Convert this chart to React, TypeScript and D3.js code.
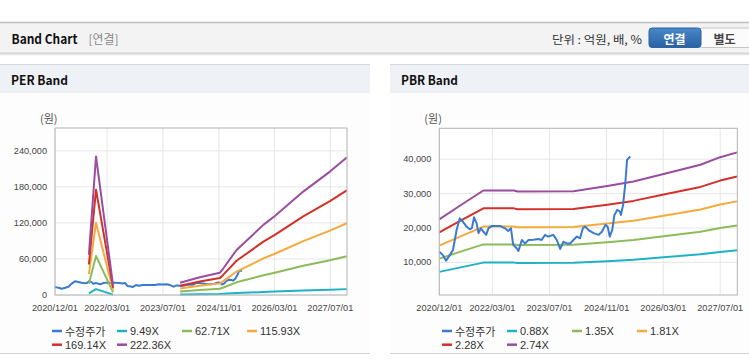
import React from "react";
import * as d3 from "d3";

const W = 749;
const H = 364;

// ---------- DATA ----------
const SERIES_COLORS = ["#3a7ad0", "#1fb1c4", "#8cbb5a", "#f5aa3c", "#d4302a", "#9a4d9e"];
const PRICE_LABEL = "수정주가";
const X_TICKS = ["2020/12/01", "2022/03/01", "2023/07/01", "2024/11/01", "2026/03/01", "2027/07/01"];

const PRICE_DATES = [
  "2020-12-01", "2021-01-01", "2021-01-28", "2021-03-01", "2021-03-28", "2021-04-28", "2021-05-25", "2021-06-22",
  "2021-07-22", "2021-08-19", "2021-09-06", "2021-09-24", "2021-10-16", "2021-11-01", "2021-11-22", "2021-12-13",
  "2022-01-06", "2022-01-25", "2022-02-24", "2022-05-04", "2022-06-16", "2022-07-13", "2022-08-06", "2022-08-25",
  "2022-09-24", "2022-10-09", "2022-11-07", "2022-12-04", "2023-01-03", "2023-02-15", "2023-03-28", "2023-04-25",
  "2023-05-24", "2023-06-21", "2023-08-03", "2023-09-02", "2023-10-01", "2023-10-28", "2023-11-27", "2023-12-25",
  "2024-01-22", "2024-02-21", "2024-03-19", "2024-04-12", "2024-05-01", "2024-05-31", "2024-07-13", "2024-08-25",
  "2024-09-22", "2024-10-22", "2024-11-10", "2024-11-28", "2024-12-19", "2025-01-07", "2025-02-01", "2025-02-22",
  "2025-03-04", "2025-03-22", "2025-04-10", "2025-04-25", "2025-05-22",
];
const PRICE = [
  13100, 12100, 10500, 12100, 13600, 19400, 22800, 21800,
  20400, 19600, 20000, 23100, 21400, 18500, 19900, 18900,
  18000, 19900, 20600, 20600, 19900, 19100, 19900, 15100,
  14100, 13300, 16500, 15500, 16500, 16600, 16800, 16500,
  18000, 17500, 18000, 16500, 13900, 16000, 15500, 15500,
  16500, 17500, 17000, 19900, 20400, 19400, 18500, 18000,
  18900, 20900, 20400, 17500, 19400, 23800, 25300, 24800,
  23800, 26700, 33000, 39800, 40800,
];

// PER band
const PER_LABELS = ["9.49X", "62.71X", "115.93X", "169.14X", "222.36X"];
const PER_Y_TICKS = [0, 60000, 120000, 180000, 240000];
const PER_SPIKE_DATES = ["2021-09-23", "2021-11-24", "2022-04-22"];
const PER_SPIKE_949 = [2850, 9840, 660];
const PER_SPIKE_6271 = [18810, 65030, 4390];
const PER_SPIKE_11593 = [34780, 120220, 8120];
const PER_SPIKE_16914 = [50740, 175400, 11840];
const PER_SPIKE_22236 = [66710, 230590, 15570];
const PER_TREND_DATES = [
  "2023-11-28", "2024-05-18", "2024-11-10", "2024-12-10", "2025-04-04",
  "2025-11-24", "2026-03-04", "2026-11-07", "2027-06-28", "2027-11-22",
];
const PER_TREND_949 = [870, 1260, 1580, 1900, 3200, 4980, 5620, 7350, 8770, 9780];
const PER_TREND_6271 = [5770, 8340, 10470, 12540, 21130, 32920, 37120, 48540, 57940, 64590];
const PER_TREND_11593 = [10670, 15420, 19360, 23190, 39070, 60860, 68630, 89730, 107120, 119410];
const PER_TREND_16914 = [15560, 22500, 28250, 33830, 57000, 88800, 100130, 130910, 156290, 174210];
const PER_TREND_22236 = [20460, 29570, 37130, 44470, 74940, 116740, 131640, 172110, 205460, 229030];

// PBR band
const PBR_LABELS = ["0.88X", "1.35X", "1.81X", "2.28X", "2.74X"];
const PBR_Y_TICKS = [10000, 20000, 30000, 40000];
const PBR_DATES = [
  "2020-12-01", "2021-06-01", "2021-12-13", "2022-09-01", "2022-10-01", "2024-01-22",
  "2024-11-07", "2025-06-19", "2026-03-04", "2027-01-13", "2027-07-01", "2027-11-22",
];
const PBR_088 = [7230, 8540, 9920, 9920, 9830, 9860, 10340, 10760, 11470, 12330, 13040, 13490];
const PBR_135 = [11090, 13110, 15220, 15220, 15080, 15130, 15870, 16510, 17590, 18920, 20000, 20690];
const PBR_181 = [14860, 17570, 20410, 20410, 20210, 20280, 21270, 22130, 23580, 25370, 26820, 27740];
const PBR_228 = [18720, 22130, 25710, 25710, 25460, 25540, 26790, 27880, 29710, 31950, 33790, 34950];
const PBR_274 = [22500, 26600, 30900, 30900, 30600, 30700, 32200, 33500, 35700, 38400, 40600, 42000];

// ---------- HELPERS ----------
const parse = d3.timeParse("%Y-%m-%d");
const parseTick = d3.timeParse("%Y/%m/%d");
const X_START = "2020-12-01";
const X_END = "2027-11-24";

type Seg = { dates: string[]; values: number[] };
type Series = { color: string; segs: Seg[]; width?: number };

const AXIS_FONT = "'Liberation Sans', Arial, 'Noto Sans CJK KR', sans-serif";
const KR_FONT = "'Noto Sans CJK KR', 'Liberation Sans', sans-serif";

function BandPanel(props: {
  ox: number;
  left: number;
  right: number;
  top: number;
  bottom: number;
  yDomain: [number, number];
  yTicks: number[];
  series: Series[];
  legendLabels: string[];
  title: string;
  panelW: number;
}) {
  const { ox, left, right, top, bottom, yDomain, yTicks, series, legendLabels, title, panelW } = props;
  const x = d3.scaleTime().domain([parse(X_START)!, parse(X_END)!]).range([left, right]);
  const y = d3.scaleLinear().domain(yDomain).range([bottom, top]);
  const line = d3
    .line<[Date, number]>()
    .x((d) => x(d[0]))
    .y((d) => y(d[1]));
  const fmt = d3.format(",");
  const legendPos = [
    [0, 0], [65, 0], [130, 0], [195, 0], [0, 1], [65, 1],
  ];
  const legendX0 = ox + 52;
  return (
    <g>
      {/* panel header */}
      <rect x={ox} y={64} width={panelW} height={29} fill="#eef1f6" />
      <line x1={ox} x2={ox + panelW} y1={64.5} y2={64.5} stroke="#d4d7dc" />
      <text
        x={ox + 11}
        y={79}
        dominantBaseline="central"
        fontFamily={KR_FONT}
        fontWeight="bold"
        fontSize={12.5}
        fill="#111"
        textLength={57}
        lengthAdjust="spacingAndGlyphs"
      >
        {title}
      </text>
      <rect x={ox} y={93} width={panelW} height={260} fill="#fdfdfd" />
      <line x1={ox} x2={ox + panelW} y1={353.5} y2={353.5} stroke="#d2d2d2" />

      {/* unit label */}
      <text x={left - 15} y={118} dominantBaseline="central" fontFamily={KR_FONT} fontSize={11} fill="#555">
        (원)
      </text>

      {/* plot background */}
      <rect x={left} y={top} width={right - left} height={bottom - top} fill="#ffffff" />

      {/* grid */}
      {yTicks.map((t) => (
        <line key={"gy" + t} x1={left} x2={right} y1={y(t)} y2={y(t)} stroke="#e6e6e6" strokeWidth={1} />
      ))}
      {X_TICKS.map((t) => (
        <line
          key={"gx" + t}
          x1={x(parseTick(t)!)}
          x2={x(parseTick(t)!)}
          y1={top}
          y2={bottom}
          stroke="#e6e6e6"
          strokeWidth={1}
        />
      ))}

      {/* series */}
      {series.map((s, i) =>
        s.segs.map((seg, j) => (
          <path
            key={"s" + i + "-" + j}
            d={line(seg.dates.map((d, k) => [parse(d)!, seg.values[k]] as [Date, number])) || ""}
            fill="none"
            stroke={s.color}
            strokeWidth={s.width ?? 2}
            strokeLinejoin="round"
          />
        ))
      )}

      {/* frame */}
      <rect x={left} y={top} width={right - left} height={bottom - top} fill="none" stroke="#b4b4b4" strokeWidth={1} />

      {/* y labels */}
      {yTicks.map((t) => (
        <text
          key={"yl" + t}
          x={left - 8}
          y={y(t)}
          textAnchor="end"
          dominantBaseline="central"
          fontFamily={AXIS_FONT}
          fontSize={9.2}
          fill="#444"
        >
          {fmt(t)}
        </text>
      ))}

      {/* x labels */}
      {X_TICKS.map((t) => (
        <text
          key={"xl" + t}
          x={x(parseTick(t)!)}
          y={307.5}
          textAnchor="middle"
          dominantBaseline="central"
          fontFamily={AXIS_FONT}
          fontSize={9.2}
          fill="#444"
        >
          {t}
        </text>
      ))}

      {/* legend */}
      {[PRICE_LABEL, ...legendLabels].map((lab, i) => {
        const lx = legendX0 + legendPos[i][0];
        const ly = 331 + legendPos[i][1] * 13.7;
        return (
          <g key={"lg" + i}>
            <line x1={lx} x2={lx + 10} y1={ly} y2={ly} stroke={SERIES_COLORS[i]} strokeWidth={2.5} />
            <text
              x={lx + 13}
              y={ly}
              dominantBaseline="central"
              fontFamily={i === 0 ? KR_FONT : AXIS_FONT}
              fontSize={11}
              fill="#333"
            >
              {lab}
            </text>
          </g>
        );
      })}
    </g>
  );
}

export default function App() {
  const priceSeries: Series = {
    color: SERIES_COLORS[0],
    segs: [{ dates: PRICE_DATES, values: PRICE }],
  };
  const perSpike = [PER_SPIKE_949, PER_SPIKE_6271, PER_SPIKE_11593, PER_SPIKE_16914, PER_SPIKE_22236];
  const perTrend = [PER_TREND_949, PER_TREND_6271, PER_TREND_11593, PER_TREND_16914, PER_TREND_22236];
  const perSeries: Series[] = [
    priceSeries,
    ...perSpike.map((vals, i) => ({
      color: SERIES_COLORS[i + 1],
      segs: [
        { dates: PER_SPIKE_DATES, values: vals },
        { dates: PER_TREND_DATES, values: perTrend[i] },
      ],
    })),
  ];
  const pbrBands = [PBR_088, PBR_135, PBR_181, PBR_228, PBR_274];
  const pbrSeries: Series[] = [
    ...pbrBands.map((vals, i) => ({
      color: SERIES_COLORS[i + 1],
      segs: [{ dates: PBR_DATES, values: vals }],
    })),
    priceSeries,
  ];
  return (
    <svg
      width={W}
      height={H}
      viewBox={`0 0 ${W} ${H}`}
      style={{ position: "absolute", left: 0, top: 0, background: "#fff" }}
    >
      <defs>
        <linearGradient id="btnBlue" x1="0" y1="0" x2="0" y2="1">
          <stop offset="0" stopColor="#4787c8" />
          <stop offset="1" stopColor="#2a62a4" />
        </linearGradient>
        <linearGradient id="hdrShadow" x1="0" y1="0" x2="0" y2="1">
          <stop offset="0" stopColor="#c8c8c8" />
          <stop offset="1" stopColor="#ffffff" stopOpacity={0} />
        </linearGradient>
      </defs>
      <rect x={0} y={0} width={W} height={H} fill="#fff" />

      {/* top header bar */}
      <rect x={0} y={22} width={W} height={31} fill="#f3f3f3" />
      <line x1={0} x2={W} y1={22.5} y2={22.5} stroke="#bdbdbd" strokeWidth={1.5} />
      <line x1={0} x2={W} y1={53} y2={53} stroke="#d0d0d0" />
      <rect x={0} y={53.5} width={W} height={3} fill="url(#hdrShadow)" />
      <text
        x={11.5}
        y={38.5}
        dominantBaseline="central"
        fontFamily={KR_FONT}
        fontWeight="bold"
        fontSize={13}
        fill="#111"
        textLength={66}
        lengthAdjust="spacingAndGlyphs"
      >
        Band Chart
      </text>
      <text
        x={88.5}
        y={38.5}
        dominantBaseline="central"
        fontFamily={KR_FONT}
        fontSize={12}
        fill="#8a8a8a"
        textLength={30}
        lengthAdjust="spacingAndGlyphs"
      >
        [연결]
      </text>
      <text
        x={642}
        y={38.5}
        textAnchor="end"
        dominantBaseline="central"
        fontFamily={KR_FONT}
        fontSize={11.5}
        fill="#333"
        textLength={90}
        lengthAdjust="spacingAndGlyphs"
      >
        단위 : 억원, 배, %
      </text>
      <rect x={699} y={28} width={56} height={19.5} rx={3} fill="#fbfbfb" stroke="#c6c6c6" />
      <rect x={649} y={28} width={52} height={19.5} rx={3} fill="url(#btnBlue)" stroke="#2d63a0" />
      <rect x={696} y={28.5} width={4} height={18.5} fill="url(#btnBlue)" />
      <text
        x={674.5}
        y={38}
        textAnchor="middle"
        dominantBaseline="central"
        fontFamily={KR_FONT}
        fontWeight="bold"
        fontSize={12}
        fill="#fff"
      >
        연결
      </text>
      <text
        x={724.5}
        y={38}
        textAnchor="middle"
        dominantBaseline="central"
        fontFamily={KR_FONT}
        fontWeight="bold"
        fontSize={12}
        fill="#444"
      >
        별도
      </text>

      <BandPanel
        ox={0}
        panelW={370}
        left={55}
        right={347}
        top={128}
        bottom={295}
        yDomain={[0, 278000]}
        yTicks={PER_Y_TICKS}
        series={perSeries}
        legendLabels={PER_LABELS}
        title="PER Band"
      />
      <BandPanel
        ox={390}
        panelW={359}
        left={439.3}
        right={737.3}
        top={128.3}
        bottom={295}
        yDomain={[500, 49000]}
        yTicks={PBR_Y_TICKS}
        series={pbrSeries}
        legendLabels={PBR_LABELS}
        title="PBR Band"
      />
    </svg>
  );
}
